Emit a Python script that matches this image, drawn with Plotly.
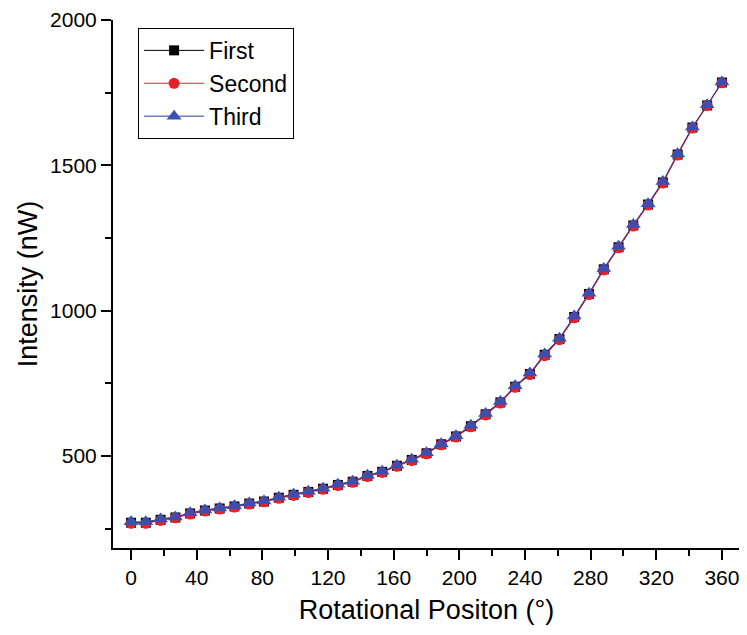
import plotly.graph_objects as go

position = [0, 9, 18, 27, 36, 45, 54, 63, 72, 81, 90, 99, 108, 117, 126, 135, 144, 153,
            162, 171, 180, 189, 198, 207, 216, 225, 234, 243, 252, 261, 270, 279, 288,
            297, 306, 315, 324, 333, 342, 351, 360]

first = [270, 270, 280, 288, 302, 312, 319, 326, 336, 343, 356, 366, 376, 387, 400, 411,
         431, 445, 466, 486, 509, 540, 567, 602, 643, 684, 738, 782, 848, 902, 978, 1057,
         1142, 1218, 1293, 1365, 1441, 1537, 1630, 1706, 1785]
second = [268, 268, 278, 287, 300, 310, 317, 324, 334, 342, 354, 364, 374, 385, 398, 409,
          429, 443, 464, 484, 507, 538, 565, 600, 641, 682, 736, 780, 845, 900, 975, 1055,
          1140, 1216, 1291, 1363, 1439, 1535, 1628, 1705, 1784]
third = [273, 273, 283, 290, 304, 314, 321, 328, 338, 345, 358, 368, 378, 389, 402, 413,
         433, 447, 468, 488, 511, 542, 569, 605, 646, 687, 741, 785, 851, 905, 981, 1060,
         1145, 1221, 1296, 1368, 1444, 1540, 1632, 1708, 1787]

FONT = "Liberation Sans, Arial"

fig = go.Figure()
fig.add_trace(go.Scatter(x=position, y=first, name="First", mode="lines+markers",
                         line=dict(color="black", width=1),
                         marker=dict(symbol="square", size=10, color="black")))
fig.add_trace(go.Scatter(x=position, y=second, name="Second", mode="lines+markers",
                         line=dict(color="#e8202a", width=1),
                         marker=dict(symbol="circle", size=11, color="#e8202a")))
fig.add_trace(go.Scatter(x=position, y=third, name="Third", mode="lines+markers",
                         line=dict(color="#2f3fa0", width=1),
                         marker=dict(symbol="triangle-up", size=13, color="#3a4fb0")))

axis_common = dict(showline=True, linecolor="black", linewidth=2, ticks="outside",
                   ticklen=10, tickwidth=2, tickcolor="black", showgrid=False,
                   zeroline=False, mirror=False, automargin=False,
                   tickfont=dict(family=FONT, size=21, color="black"),
                   title_font=dict(family=FONT, size=27, color="black"))

fig.update_xaxes(range=[-11, 371], tickvals=[0, 40, 80, 120, 160, 200, 240, 280, 320, 360],
                 minor=dict(ticks="outside", ticklen=6, tickwidth=2, tickcolor="black", dtick=20, tick0=0),
                 title_text="Rotational Positon (°)", title_standoff=12, **axis_common)
fig.update_yaxes(range=[183, 2000], tickvals=[500, 1000, 1500, 2000],
                 minor=dict(ticks="outside", ticklen=6, tickwidth=2, tickcolor="black", dtick=250, tick0=0),
                 title_text="Intensity (nW)", title_standoff=5, **axis_common)

fig.update_layout(
    width=739, height=627,
    margin=dict(l=105, r=7, t=12, b=87),
    plot_bgcolor="white", paper_bgcolor="white",
    legend=dict(x=0.04, y=0.985, xanchor="left", yanchor="top",
                bordercolor="black", borderwidth=1, bgcolor="white",
                font=dict(family=FONT, size=23, color="black"),
                tracegroupgap=0, itemwidth=60),
    showlegend=True,
)

fig.write_html("out.html")
